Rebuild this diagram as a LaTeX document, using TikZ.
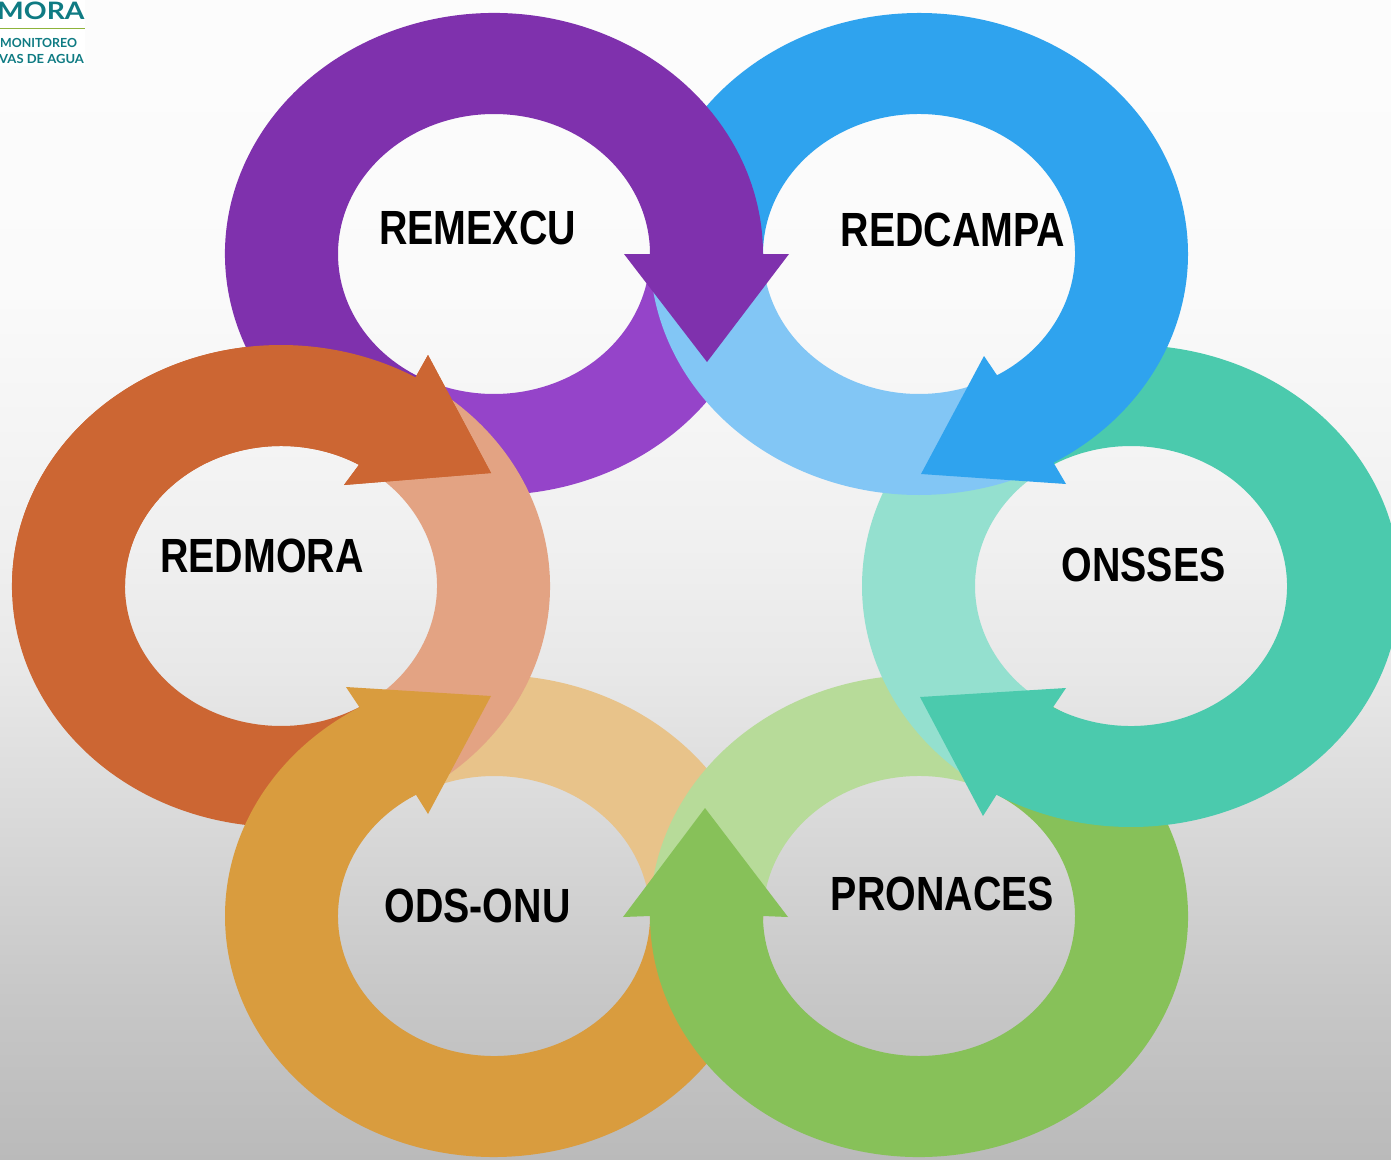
\documentclass[tikz,border=0pt]{standalone}
\usepackage{fontspec}
\setmainfont{Liberation Sans}
\newfontfamily\logofont{Lato}
\usetikzlibrary{calc}
\definecolor{pd}{HTML}{7F31AD}\definecolor{pl}{HTML}{9544C9}
\definecolor{bd}{HTML}{2FA3EE}\definecolor{bl}{HTML}{82C6F5}
\definecolor{td}{HTML}{4BCAAD}\definecolor{tl}{HTML}{94E0CF}
\definecolor{gd}{HTML}{87C159}\definecolor{gl}{HTML}{B7DB99}
\definecolor{yd}{HTML}{D99C3E}\definecolor{yl}{HTML}{E8C38A}
\definecolor{rd}{HTML}{CC6633}\definecolor{rl}{HTML}{E3A383}
\definecolor{logoteal}{HTML}{0F7B83}\definecolor{logogreen}{HTML}{8DB33A}
\pgfdeclareverticalshading{bgshade}{100bp}{
 color(0bp)=(black!27);color(25bp)=(black!27);color(31.9bp)=(black!22);color(40.5bp)=(black!14);
 color(46.1bp)=(black!9);color(51.3bp)=(black!6);color(62.1bp)=(black!2);color(75bp)=(black!1);color(100bp)=(black!1)}
% light arc: colour, centre x, y, from, to
\newcommand{\lightarc}[5]{\fill[#1] ($(#2,#3)+(#4:269 and 241)$)
  arc[start angle=#4,end angle=#5,x radius=269,y radius=241]
  -- ($(#2,#3)+(#5:156 and 140)$)
  arc[start angle=#5,end angle=#4,x radius=156,y radius=140] -- cycle;}
% dark arrow: colour, centre x, y, from, to, outer head point, tip, inner head point
\newcommand{\darkarrow}[8]{\fill[#1] ($(#2,#3)+(#4:269 and 241)$)
  arc[start angle=#4,end angle=#5,x radius=269,y radius=241]
  -- #6 -- #7 -- #8
  -- ($(#2,#3)+(#5:156 and 140)$)
  arc[start angle=#5,end angle=#4,x radius=156,y radius=140] -- cycle;}
\tikzset{lab/.style={font=\bfseries\fontsize{48}{50}\selectfont,xscale=.82,text=black,inner sep=0pt},
 logot/.style={font=\logofont\bfseries\fontsize{12.5}{14}\selectfont,text=logoteal,inner sep=0pt,anchor=base west,xscale=.99}}
\begin{document}
\begin{tikzpicture}[x=1pt,y=-1pt]
\useasboundingbox (0,0) rectangle (1391,1159);
\clip (0,0) rectangle (1391,1159);
\shade[shading=bgshade] (0,0) rectangle (1391,1159);
% logo
\fill[white] (0,0) rectangle (85,66);
\node[logot,font=\logofont\bfseries\fontsize{24}{26}\selectfont,xscale=1.19] (logoa) at (-3,19) {MORA};
\fill[logogreen] (0,27.5) rectangle (85,29);
\node[logot] (logob) at (0,47) {MONITOREO};
\node[logot,xscale=1.05] (logoc) at (-1,63) {VAS DE AGUA};
% light arcs
\lightarc{pl}{494}{254}{0}{114}
\lightarc{yl}{494}{916}{240}{355}
\lightarc{gl}{919}{916}{180}{298}
\lightarc{tl}{1131}{586}{120}{235}
\lightarc{bl}{919}{254}{60}{175}
\lightarc{rl}{281}{586}{300}{418}
% dark arrows
\darkarrow{rd}{281}{586}{58}{300}{(428,355)}{(491,473)}{(344,485)}
\darkarrow{yd}{494}{916}{-5}{240}{(346,687)}{(491,696)}{(428,814)}
\darkarrow{gd}{919}{916}{-62}{180}{(623,917)}{(705,808)}{(788,917)}
\darkarrow{td}{1131}{586}{235}{480}{(983,816)}{(920,697)}{(1066,688)}
\darkarrow{bd}{919}{254}{175}{420}{(1066,484)}{(921,474)}{(984,356)}
\darkarrow{pd}{494}{254}{114}{360}{(789,254)}{(707,362)}{(624,254)}
\darkarrow{rd}{281}{586}{180}{300}{(428,355)}{(491,473)}{(344,485)}
% labels
\node[lab] (remexcu) at (477.5,228) {REMEXCU};
\node[lab] (redcampa) at (953,230) {REDCAMPA};
\node[lab] (onsses) at (1143.5,565) {ONSSES};
\node[lab] (pronaces) at (942.5,894) {PRONACES};
\node[lab] (odsonu) at (477.5,906) {ODS-ONU};
\node[lab] (redmora) at (262,556) {REDMORA};
\end{tikzpicture}
\end{document}
